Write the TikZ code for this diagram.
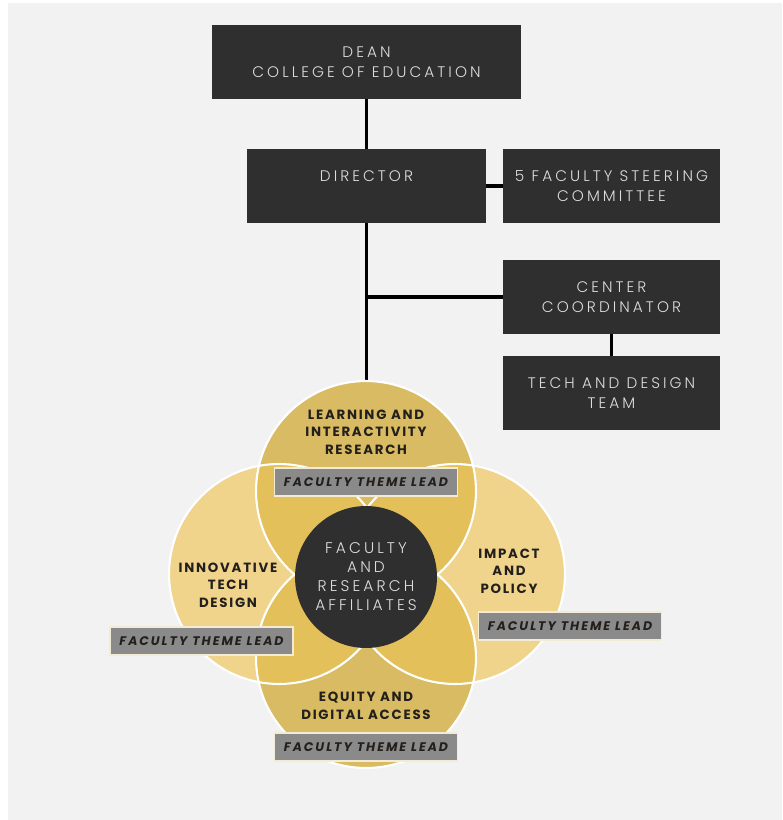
\documentclass[tikz,border=0pt]{standalone}
\usepackage{fontspec}
\setmainfont{Poppins}
\newfontfamily\boxfont[LetterSpace=20, UprightFont={* Light}]{Poppins}
\newfontfamily\lblfont[LetterSpace=13]{Poppins}
\newfontfamily\tagfont[LetterSpace=16]{Poppins}
\usetikzlibrary{calc}
\definecolor{bgcol}{HTML}{F2F2F2}
\definecolor{boxgray}{HTML}{2F2F2F}
\definecolor{boxtext}{HTML}{DDDDDD}
\definecolor{sidegold}{HTML}{F0D48C}
\definecolor{midgold}{HTML}{D8BB62}
\definecolor{deepgold}{HTML}{E3C05A}
\definecolor{taggray}{HTML}{8A8A8A}
\definecolor{tagedge}{HTML}{F3EBD3}
\definecolor{lbltext}{HTML}{231F1C}

\begin{document}
\begin{tikzpicture}[x=0.02cm, y=-0.02cm,
  box/.style={fill=boxgray, text=boxtext, align=center, inner sep=0pt,
    minimum height=1.48cm, font=\boxfont\fontsize{8.7}{11.3}\selectfont},
  tag/.style={fill=taggray, draw=tagedge, line width=1pt, text=lbltext, inner sep=0pt,
    minimum width=3.66cm, minimum height=0.56cm,
    font=\tagfont\bfseries\itshape\fontsize{7.1}{8}\selectfont},
  lbl/.style={text=lbltext, align=center, font=\lblfont\bfseries\fontsize{7.6}{10}\selectfont},
  link/.style={line width=2.2pt}]
\useasboundingbox (0,0) rectangle (782,820);
\fill[bgcol] (8,3) rectangle (782,820);

% org chart
\node[box, minimum width=6.18cm] (dean) at (366.5,62) {DEAN\\COLLEGE OF EDUCATION};
\node[box, minimum width=4.78cm] (dir) at (366.5,186) {DIRECTOR\\\mbox{}};
\node[box, minimum width=4.34cm] (steer) at (611.5,186) {5 FACULTY STEERING\\COMMITTEE};
\node[box, minimum width=4.34cm] (coord) at (611.5,297) {CENTER\\COORDINATOR};
\node[box, minimum width=4.34cm] (team) at (611.5,393) {TECH AND DESIGN\\TEAM};

\coordinate (venn) at (366.5,385);
\coordinate (split) at (dir.south |- coord.west);
\draw[link] (dean) -- (dir);
\draw[link] (dir) -- (steer);
\draw[link] (dir.south) -- (venn);
\draw[link] (split) -- (coord.west);
\draw[link] (coord) -- (team);

% venn circles
\coordinate (ct) at (366,491);
\coordinate (cb) at (366,658);
\coordinate (cl) at (279,574);
\coordinate (cr) at (455,574);
\fill[sidegold] (cl) circle (2.2cm) (cr) circle (2.2cm);
\fill[midgold] (ct) circle (2.2cm) (cb) circle (2.2cm);
\begin{scope}
  \clip (ct) circle (2.2cm);
  \fill[deepgold] (cl) circle (2.2cm) (cr) circle (2.2cm);
\end{scope}
\begin{scope}
  \clip (cb) circle (2.2cm);
  \fill[deepgold] (cl) circle (2.2cm) (cr) circle (2.2cm);
\end{scope}
\draw[white, line width=1.2pt] (ct) circle (2.2cm) (cb) circle (2.2cm)
  (cl) circle (2.2cm) (cr) circle (2.2cm);

\node[circle, fill=boxgray, inner sep=0pt, minimum size=2.84cm, text=boxtext, align=center,
  font=\boxfont\fontsize{8.8}{10.8}\selectfont] (hub) at (366,577)
  {FACULTY\\AND\\RESEARCH\\AFFILIATES};

% themes
\node[lbl] (learn) at (366,432) {LEARNING AND\\INTERACTIVITY\\RESEARCH};
\node[lbl] (innov) at (228,585) {INNOVATIVE\\TECH\\DESIGN};
\node[lbl] (impact) at (509,571) {IMPACT\\AND\\POLICY};
\node[lbl] (equity) at (366,706) {EQUITY AND\\DIGITAL ACCESS};

\node[tag] (leadt) at (366,482) {FACULTY THEME LEAD};
\node[tag] (leadl) at (201.5,641) {FACULTY THEME LEAD};
\node[tag] (leadr) at (570,626) {FACULTY THEME LEAD};
\node[tag] (leadb) at (366,747) {FACULTY THEME LEAD};
\end{tikzpicture}
\end{document}
